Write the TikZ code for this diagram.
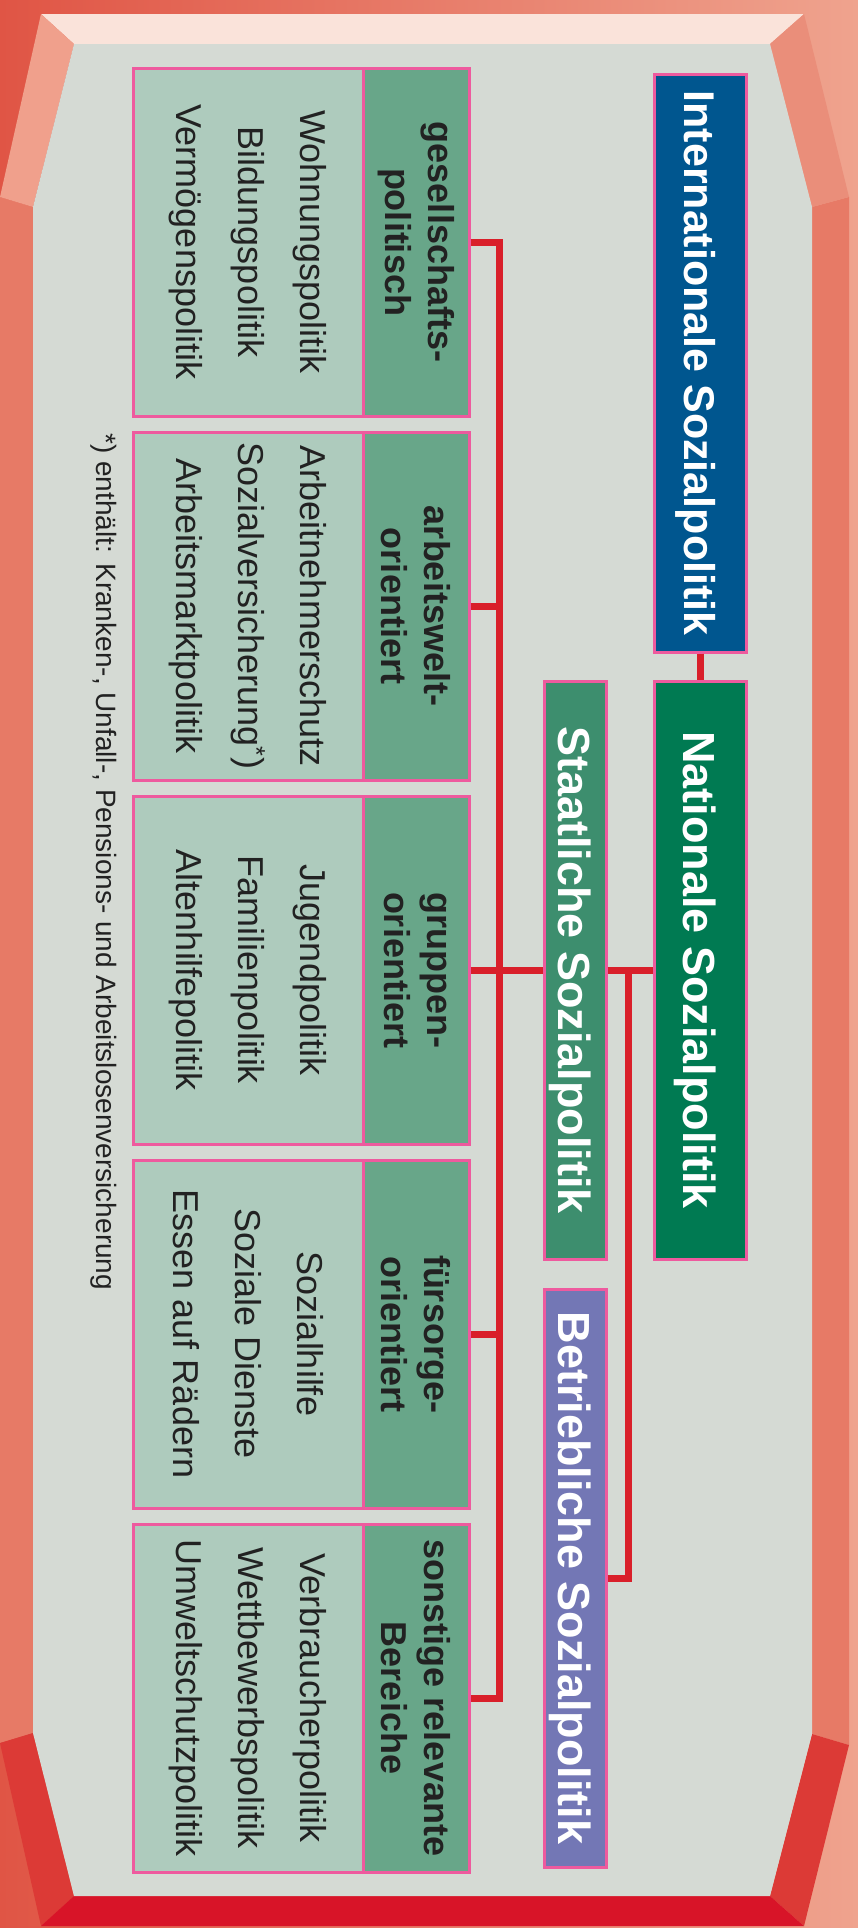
\documentclass[tikz,border=0pt]{standalone}
\usepackage{fontspec}
\setmainfont{Liberation Sans}
\usepackage{xcolor}
\definecolor{rahmenrot}{HTML}{E05545}
\definecolor{rahmenhell}{HTML}{EFA38E}
\definecolor{seite}{HTML}{E77A66}
\definecolor{kanteoben}{HTML}{FAE3DA}
\definecolor{kantelinks}{HTML}{F0A08C}
\definecolor{kanterechts}{HTML}{EA8E7A}
\definecolor{kanteunten}{HTML}{DC3A36}
\definecolor{bandunten}{HTML}{D81428}
\definecolor{flaeche}{HTML}{D5DAD4}
\definecolor{rosa}{HTML}{EE5A9E}
\definecolor{kopfgruen}{HTML}{68A689}
\definecolor{listegruen}{HTML}{AECBBD}
\definecolor{intblau}{HTML}{00568F}
\definecolor{natgruen}{HTML}{007A52}
\definecolor{staatgruen}{HTML}{3D8E6E}
\definecolor{betrviolett}{HTML}{7377B5}
\definecolor{linienrot}{HTML}{D91F2A}
\definecolor{schrift}{HTML}{222222}
\newcommand{\bereich}[4]{
\node[kopf] (#1k) at (416,#2) {#3};
\node[liste] (#1l) at (248,#2) {#4};
}
\usepackage{tikz}

\begin{document}
\begin{tikzpicture}[x=1pt,y=-1pt]
\tikzset{
feld/.style={rotate=-90, draw=rosa, line width=3pt, inner sep=0pt, align=center, text=schrift, minimum width=348pt},
kopf/.style={feld, fill=kopfgruen, minimum height=106pt, font=\bfseries\fontsize{36}{43}\selectfont},
liste/.style={feld, fill=listegruen, minimum height=230pt, font=\fontsize{36}{62}\selectfont},
titel/.style={rotate=-90, draw=rosa, line width=3pt, inner sep=0pt, text=white, text depth=0pt, minimum width=578pt, font=\bfseries\fontsize{45}{52}\selectfont},
verbinder/.style={draw=linienrot, line width=7pt},
}
\useasboundingbox (0,0) rectangle (858,1928);

\shade[left color=rahmenrot, right color=rahmenhell] (0,0) rectangle (858,1928);
\fill[seite] (0,197)--(33,207)--(33,1733)--(0,1743)--cycle;
\fill[seite] (849,197)--(812,207)--(812,1734)--(849,1745)--cycle;
\fill[kanteoben] (41,14)--(804,14)--(770,44)--(74,44)--cycle;
\fill[kantelinks] (41,14)--(74,44)--(33,207)--(0,197)--cycle;
\fill[kanterechts] (804,14)--(770,44)--(812,207)--(849,197)--cycle;
\fill[kanteunten] (33,1733)--(0,1743)--(41,1926)--(74,1896)--cycle;
\fill[kanteunten] (812,1734)--(849,1745)--(804,1926)--(770,1896)--cycle;
\fill[bandunten] (74,1896)--(770,1896)--(804,1926)--(41,1926)--cycle;
\fill[flaeche] (74,44)--(770,44)--(812,207)--(812,1734)--(770,1896)--(74,1896)--(33,1733)--(33,207)--cycle;

\node[titel, fill=intblau, minimum height=92pt, font=\bfseries\fontsize{43}{52}\selectfont] (intl) at (700,363) {Internationale Sozialpolitik};
\node[titel, fill=natgruen, minimum height=92pt] (natl) at (700,970) {Nationale Sozialpolitik};
\node[titel, fill=staatgruen, minimum height=62pt] (staat) at (575,970) {Staatliche Sozialpolitik};
\node[titel, fill=betrviolett, minimum height=62pt] (betr) at (575,1578) {Betriebliche Sozialpolitik};

\bereich{g}{242}{gesellschafts-\\politisch}{Wohnungspolitik\\Bildungspolitik\\Vermögenspolitik}
\bereich{a}{606}{arbeitswelt-\\orientiert}{Arbeitnehmerschutz\\Sozialversicherung\textsuperscript{*})\\Arbeitsmarktpolitik}
\bereich{p}{970}{gruppen-\\orientiert}{Jugendpolitik\\Familienpolitik\\Altenhilfepolitik}
\bereich{f}{1334}{fürsorge-\\orientiert}{Sozialhilfe\\Soziale Dienste\\Essen auf Rädern}
\bereich{s}{1698}{sonstige relevante\\Bereiche}{Verbraucherpolitik\\Wettbewerbspolitik\\Umweltschutzpolitik}

\node[rotate=-90, anchor=west, inner sep=0pt, text=schrift, font=\fontsize{28}{34}\selectfont] (fn) at (104,433) {*) enthält: Kranken-, Unfall-, Pensions- und Arbeitslosenversicherung};

\coordinate (bus) at (499,0);
\coordinate (abzw) at (628,970);

\draw[verbinder] (intl.east) -- (natl.west);
\draw[verbinder] (gk.north) -- (gk.north -| bus) -- (sk.north -| bus) -- (sk.north);
\draw[verbinder] (ak.north) -- (ak.north -| bus);
\draw[verbinder] (fk.north) -- (fk.north -| bus);
\draw[verbinder] (pk.north) -- (staat.south);
\draw[verbinder] (staat.north) -- (natl.south);
\draw[verbinder] (abzw) |- (betr.north);

\end{tikzpicture}
\end{document}
